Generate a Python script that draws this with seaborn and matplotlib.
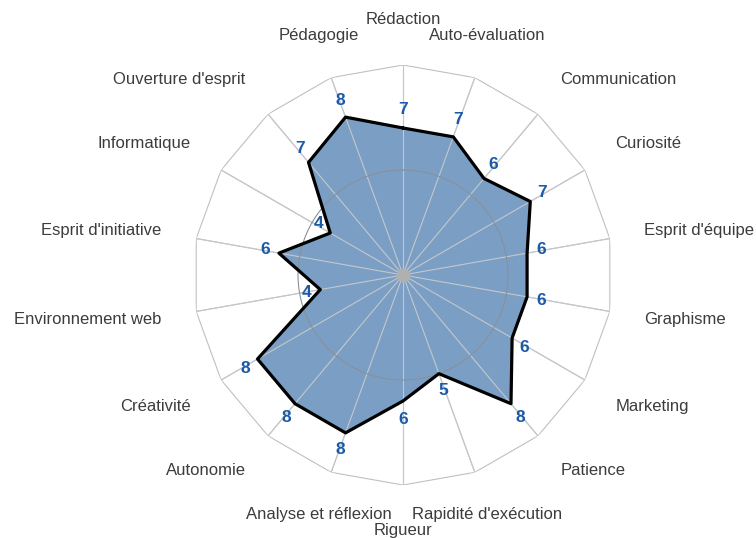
import numpy as np
import pandas as pd
import matplotlib
matplotlib.use("Agg")
import matplotlib.pyplot as plt
import seaborn as sns

categories = ["Rédaction", "Auto-évaluation", "Communication", "Curiosité",
              "Esprit d'équipe", "Graphisme", "Marketing", "Patience",
              "Rapidité d'exécution", "Rigueur", "Analyse et réflexion",
              "Autonomie", "Créativité", "Environnement web",
              "Esprit d'initiative", "Informatique", "Ouverture d'esprit",
              "Pédagogie"]
values = [7, 7, 6, 7, 6, 6, 6, 8, 5, 6, 8, 8, 8, 4, 6, 4, 7, 8]
r_max = 10
ring_value = 5

sns.set_theme(style="white")
plt.rcParams['font.family'] = ['Liberation Sans', 'DejaVu Sans']

W, H = 756, 538
fig = plt.figure(figsize=(W / 100, H / 100), dpi=100)
cx, cy, R = 403, 275, 210
ax = fig.add_axes([(cx - R) / W, (H - cy - R) / H, 2 * R / W, 2 * R / H],
                  projection="polar")
ax.set_theta_offset(np.pi / 2)
ax.set_theta_direction(-1)
ax.set_ylim(0, r_max)
ax.grid(False)
ax.spines["polar"].set_visible(False)
ax.set_xticks([])
ax.set_yticks([])
ax.set_facecolor("none")

n = len(categories)
theta = np.arange(n) * 2 * np.pi / n
theta_c = np.append(theta, theta[0])
vals_c = np.append(values, values[0])

# outer polygon
ax.plot(theta_c, np.full(n + 1, r_max), color="#c0c0c0", lw=0.8, zorder=1)
# spokes (under the fill)
for t in theta:
    ax.plot([t, t], [0, r_max], color="#c0c0c0", lw=0.8, zorder=1)

# fill
ax.fill(theta_c, vals_c, color="#7b9ec4", zorder=2, lw=0)

# spokes and ring over fill
for t in theta:
    ax.plot([t, t], [0, r_max], color="#c4c8cc", lw=0.8, zorder=3)
tt = np.linspace(0, 2 * np.pi, 361)
ax.plot(tt, np.full_like(tt, ring_value), color="#8a9099", lw=0.8, zorder=3)

# outline via seaborn
df = pd.DataFrame({"theta": theta_c, "value": vals_c})
sns.lineplot(data=df, x="theta", y="value", sort=False, estimator=None,
             color="black", lw=2.3, ax=ax, zorder=4)
ax.set_xlabel("")
ax.set_ylabel("")
ax.set_ylim(0, r_max)

# center dot
ax.scatter([0], [0], s=100, color="#b0b0b0", zorder=5, lw=0)

# value labels
for t, v in zip(theta, values):
    ang = np.pi / 2 - t
    ax.annotate(str(v), (t, v), xytext=(10 * np.cos(ang), 13 * np.sin(ang)),
                textcoords="offset points", ha="center", va="center",
                fontsize=12.5, fontweight="bold", color="#1a5aa6", zorder=6,
                annotation_clip=False)

# category labels
rx, ry = 245 / 21, 255 / 21
for t, lab in zip(theta, categories):
    ang = np.pi / 2 - t
    s = np.sin(ang)
    x = rx * np.cos(ang)
    y = ry * s + (0.2 * np.sign(s) if 0.3 < abs(s) < 0.6 else 0)
    tp = np.pi / 2 - np.arctan2(y, x)
    rp = np.hypot(x, y)
    c = np.cos(ang)
    if abs(c) < 0.5:
        ha = "center"
    elif c > 0:
        ha = "left"
    else:
        ha = "right"
    ax.text(tp, rp, lab, ha=ha, va="center", fontsize=12, color="#3c3c3c",
            clip_on=False)

fig.savefig("out.png", dpi=100)
